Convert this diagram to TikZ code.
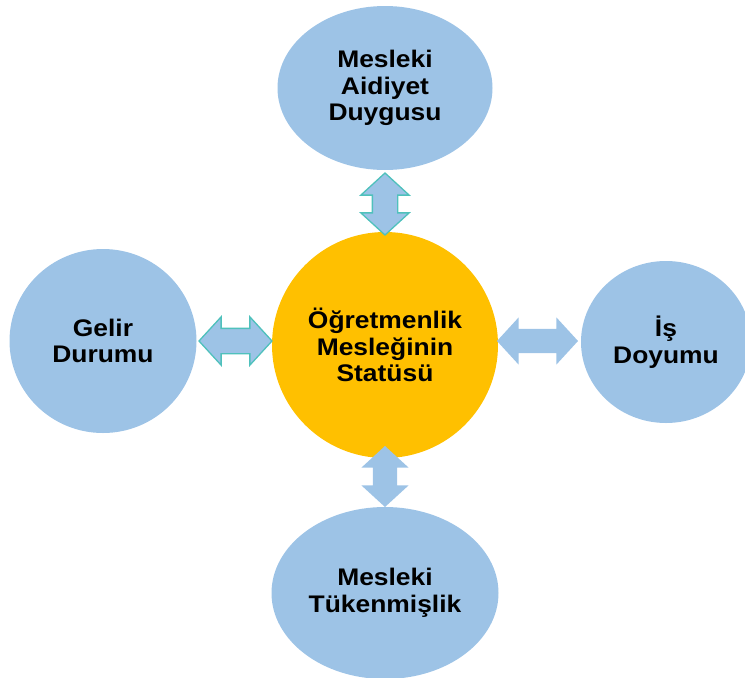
\documentclass[tikz,border=0pt]{standalone}
\usepackage{fontspec}
\setmainfont{Liberation Sans}[FakeStretch=1.1]
\usepackage{tikz}
\usetikzlibrary{shapes.geometric,shapes.arrows,calc}
\definecolor{SkyBlue}{HTML}{9DC3E6}
\definecolor{Amber}{HTML}{FFC000}
\definecolor{Teal}{HTML}{4FC1BC}

\tikzset{
  factor/.style={ellipse,fill=SkyBlue,inner sep=0pt,align=center,
    font=\fontsize{24}{26.5}\selectfont\bfseries},
  core/.style={circle,fill=Amber,inner sep=0pt,minimum size=226pt,align=center,
    font=\fontsize{24}{26.5}\selectfont\bfseries},
  link/.style={double arrow,fill=SkyBlue,inner sep=12pt,
    double arrow head extend=11.5pt,double arrow tip angle=95},
  linkedge/.style={link,draw=Teal,line width=1.3pt}
}

\begin{document}
\begin{tikzpicture}[x=1pt,y=-1pt]
    \useasboundingbox (0,0) rectangle (745,678);
    \clip (0,0) rectangle (745,678);

    % surrounding factors
    \node[factor,minimum width=215pt,minimum height=164pt] (aidiyet) at (385,88) {Mesleki\\Aidiyet\\Duygusu};
    \node[factor,minimum width=187pt,minimum height=184pt] (gelir) at (103,341) {Gelir\\Durumu};
    \node[factor,minimum width=170pt,minimum height=162pt] (doyum) at (666,342) {İş\\Doyumu};
    \node[factor,minimum width=227pt,minimum height=172pt] (tukenmislik) at (385,593) {Mesleki\\Tükenmişlik};

    % central status
    \node[core] (statu) at (385,345) {Öğretmenlik\\Mesleğinin\\Statüsü};

    % two-way links
    \node[linkedge,minimum height=62pt,rotate=90] (toAidiyet) at (385,204) {};
    \node[linkedge,minimum height=73pt] (toGelir) at (235.5,341) {};
    \node[link,minimum height=81pt] (toDoyum) at (537.5,341) {};
    \node[link,minimum height=61pt,rotate=90] (toTukenmislik) at (385,476.5) {};
\end{tikzpicture}
\end{document}
